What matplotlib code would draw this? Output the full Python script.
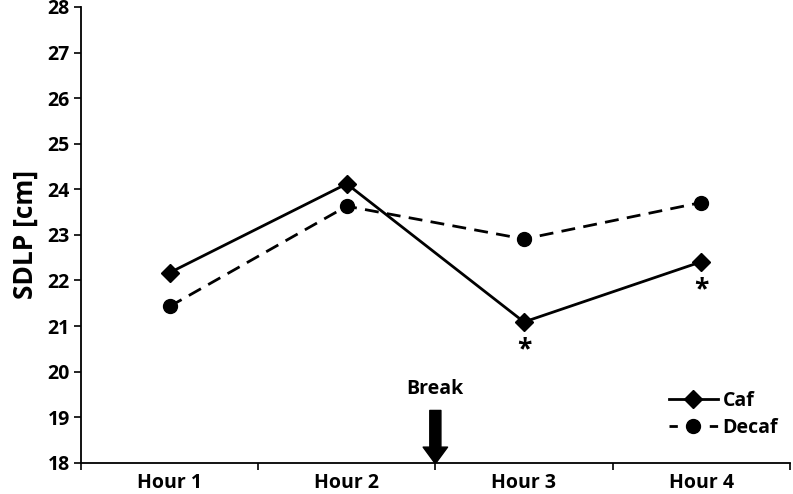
import matplotlib.pyplot as plt
from matplotlib.lines import Line2D
from matplotlib.patches import FancyArrowPatch

plt.rcParams["font.family"] = ["Open Sans", "DejaVu Sans"]
plt.rcParams["font.weight"] = "bold"

hours = ["Hour 1", "Hour 2", "Hour 3", "Hour 4"]
caf = [22.17, 24.12, 21.09, 22.41]
decaf = [21.43, 23.63, 22.91, 23.71]
significant = [False, False, True, True]

fig = plt.figure(figsize=(7.93, 4.94), dpi=100)
ax = fig.add_axes([0.102, 0.063, 0.894, 0.923])

x = list(range(len(hours)))
ax.plot(x, caf, color="black", linewidth=2, marker="D", markersize=9, label="Caf")
ax.plot(x, decaf, color="black", linewidth=2, linestyle=(0, (5, 3)), marker="o",
        markersize=10, label="Decaf")

# significance stars under the caffeine points
for xi, yi, sig in zip(x, caf, significant):
    if sig:
        ax.text(xi, yi - 0.32, "*", ha="center", va="top", fontsize=19, fontweight="bold")

ax.set_xlim(-0.5, 3.5)
ax.set_ylim(18, 28)
ax.set_yticks(range(18, 29))
ax.set_xticks([i - 0.5 for i in range(len(hours) + 1)])
ax.set_xticklabels([])
ax.set_xticks(x, minor=True)
ax.set_xticklabels(hours, minor=True, fontsize=14, fontweight="bold")
ax.tick_params(axis="x", which="minor", length=0, pad=7)
ax.tick_params(axis="x", which="major", length=5, width=1.2, direction="out")
ax.tick_params(axis="y", length=5, width=1.2, labelsize=14, pad=3)
for lab in ax.get_yticklabels():
    lab.set_fontweight("bold")

ax.set_ylabel("SDLP [cm]", fontsize=19, fontweight="bold", labelpad=6)

for side in ["top", "right"]:
    ax.spines[side].set_visible(False)
for side in ["left", "bottom"]:
    ax.spines[side].set_linewidth(1.3)

# Break arrow between Hour 2 and Hour 3
arrow = FancyArrowPatch((1.5, 19.15), (1.5, 17.98),
                        arrowstyle="simple,head_length=0.75,head_width=1.1,tail_width=0.5",
                        mutation_scale=16, color="black", shrinkA=0, shrinkB=0, zorder=5)
ax.add_patch(arrow)
ax.text(1.5, 19.4, "Break", ha="center", va="bottom", fontsize=14, fontweight="bold")

handles = [
    Line2D([], [], color="black", linewidth=2, marker="D", markersize=9),
    Line2D([], [], color="black", linewidth=2, linestyle=(0, (3, 11.5)), marker="o", markersize=10),
]
ax.legend(handles, ["Caf", "Decaf"], loc="lower right", bbox_to_anchor=(1.0, 0.03),
          frameon=False, handlelength=2.5, handletextpad=0.25, labelspacing=0.35,
          borderaxespad=0.2, prop={"weight": "bold", "size": 14})

fig.savefig("out.png", dpi=100)
